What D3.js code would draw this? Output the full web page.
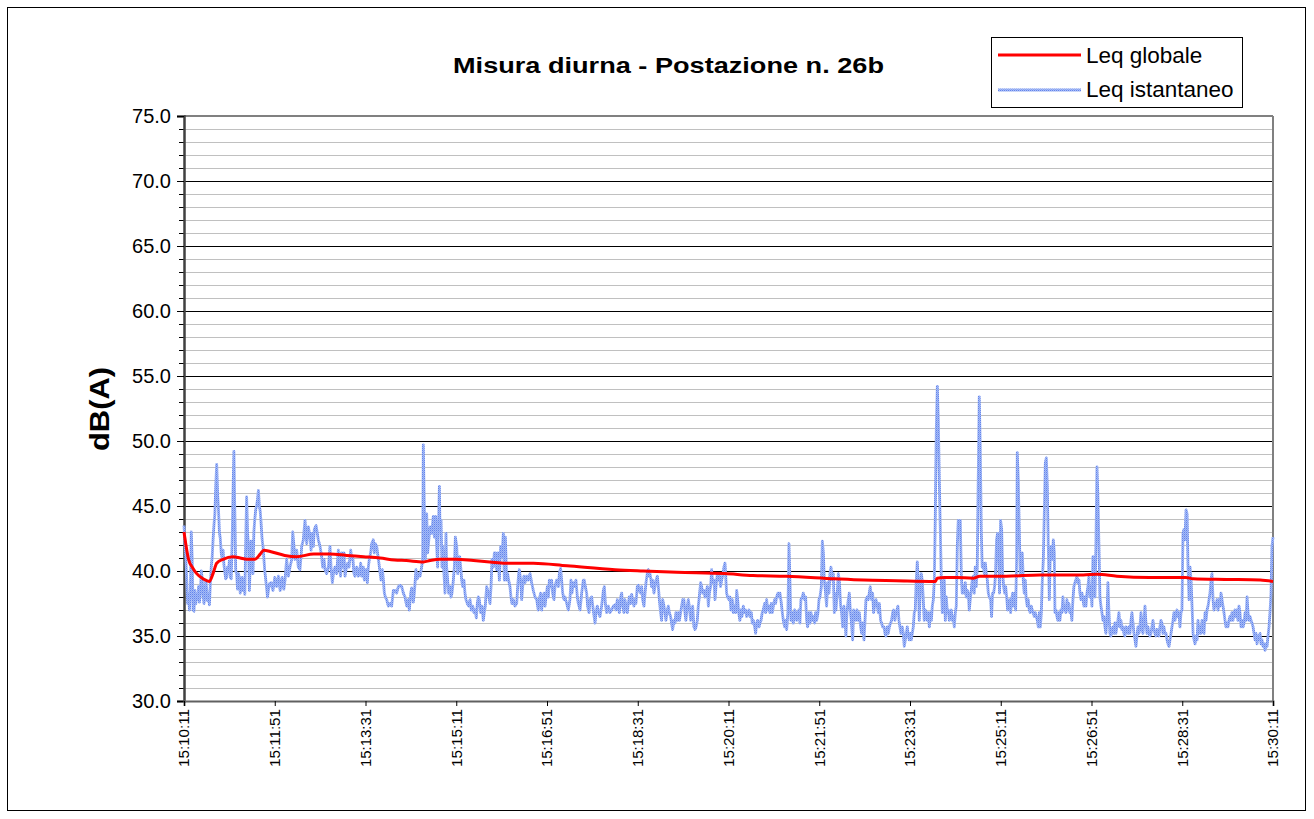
<!DOCTYPE html>
<html><head><meta charset="utf-8">
<script src="https://cdn.jsdelivr.net/npm/d3@7"></script>
<style>
body{margin:0;background:#fff}
svg text{font-family:"Liberation Sans",Arial,sans-serif;fill:#000}
</style>
</head><body>
<svg id="chart" width="1314" height="819"></svg>
<script>
// ---------- DATA ----------
const chartTitle = "Misura diurna - Postazione n. 26b";
const yTitle = "dB(A)";
const seriesNames = ["Leq globale", "Leq istantaneo"];
// x ticks: seconds from 15:10:11
const tickSeconds = [0,100,200,300,400,500,600,700,800,900,1000,1100,1200];
const tickLabels = ["15:10:11","15:11:51","15:13:31","15:15:11","15:16:51","15:18:31","15:20:11","15:21:51","15:23:31","15:25:11","15:26:51","15:28:31","15:30:11"];
const yMajor = [30,35,40,45,50,55,60,65,70,75];

// Leq globale (running global level)
const globT = [0,5,10,14,21,28,32,36,43,54,62,69,78,84,88,95,111,124,143,161,179,198,216,232,245,264,271,282,300,319,337,354,385,422,475,506,543,596,627,664,717,749,785,822,828,830,838,851,870,877,906,943,960,991,1006,1028,1064,1081,1104,1112,1149,1186,1200];
const globV = [43.0,40.9,40.2,39.8,39.4,39.2,39.8,40.6,40.9,41.1,41.0,40.9,40.9,41.3,41.6,41.5,41.2,41.1,41.3,41.3,41.2,41.1,41.0,40.85,40.8,40.7,40.8,40.9,40.9,40.8,40.7,40.6,40.6,40.4,40.1,40.0,39.9,39.8,39.65,39.6,39.4,39.3,39.25,39.2,39.2,39.45,39.5,39.5,39.45,39.6,39.6,39.7,39.7,39.7,39.75,39.6,39.5,39.5,39.5,39.4,39.35,39.3,39.2];

// Leq istantaneo, in segments (time s, level dB)
const inst1T = [0,2,3,4,5,6,7,8,9,10,11,12,13,14,15,16,17,18,19,20,21,22,23,24,25,26,27,28,29,30,31,32,33,34,35,36,37,38,39,40,41,42,43,44,45,46,47,48,49,50,51,52,53,54,55,56,57,58,59,60,61,62,63,64,65,66,67,68,69,70,71,72,73,74,75,76,77,78,79,80,81,82,83,84,85,86,87,88,89,90,92,94,96,98,100,102,104,106,108,110];
const inst1V = [43.5,41.0,39.3,37.5,38.2,37.0,38.5,43.0,41.0,37.0,36.9,38.5,37.5,38.2,37.8,38.8,37.6,38.2,40.0,39.5,38.3,37.5,38.0,39.3,38.6,37.7,38.2,37.4,39.0,40.3,41.0,42.4,43.5,44.4,46.5,48.2,46.0,44.7,43.0,42.5,41.4,41.0,41.6,40.5,39.9,39.4,39.5,40.3,40.0,40.8,39.5,39.4,42.0,46.0,49.2,44.5,40.0,39.8,38.6,39.8,39.5,38.3,38.8,39.5,38.5,39.4,38.2,42.0,45.7,43.0,42.0,38.5,40.4,42.3,40.0,39.8,43.0,44.0,44.7,45.0,45.5,46.2,45.0,44.6,43.6,42.5,41.9,41.0,40.0,39.4,38.0,39.0,39.1,38.5,39.5,38.8,39.6,38.5,39.5,38.6];

const inst2T = [111.3,113.1,115.0,116.8,118.7,119.8,121.2,122.3,124.2,126.0,127.8,128.9,129.7,131.5,133.3,134.4,135.2,137.0,138.9,140.0,140.7,142.5,143.6,145.5,146.9,148.0,149.9,151.7,152.8,154.3,155.4,157.2,159.1,160.9,162.0,163.5,164.6,166.4,168.2,170.1,171.2,172.6,173.7,174.9,176.3,177.4,178.5,180.4,181.8,183.7,184.8,185.9,187.3,188.4,190.3,192.1,193.2,194.7,195.8,197.6,198.7,200.6,202.0,203.1,204.2,205.7,206.8,208.6,209.7,210.8,212.3,214.2,215.3,217.1,218.6,219.7,220.8,221.9,223.3,225.2,227.0,228.8,230.7,232.5];
const inst2V = [39.3,40.9,39.6,40.3,40.9,43.0,41.9,40.9,41.6,40.3,40.1,41.1,41.9,42.4,43.9,42.9,42.1,43.4,42.6,41.6,42.9,41.9,43.2,43.5,42.9,42.4,41.9,41.1,40.3,40.9,40.1,39.8,40.3,41.9,40.3,39.1,39.8,40.3,39.8,41.6,40.3,39.6,41.4,40.3,41.4,39.6,40.1,40.6,40.3,41.6,40.9,41.1,39.8,39.6,40.3,39.6,39.8,40.6,39.6,40.3,39.3,40.1,39.1,40.3,40.9,41.4,42.1,42.4,41.4,42.1,41.9,40.9,40.3,39.3,40.1,39.3,38.3,38.0,37.8,37.3,37.5,37.3,38.5,38.5];

const inst3T = [234.3,236.2,238.0,239.9,241.7,243.5,245.4,247.2,248.3,249.8,250.9,252.7,253.8,255.6,257.1,258.2,260.1,261.9,263.0,263.7,264.8,265.9,267.4,268.5,270.0,271.1,272.9,274.7,275.9,277.3,278.4,279.5,281.4,282.1,283.2,284.3,285.0,286.5,287.6,288.7,289.4,290.5,291.6,293.1,294.2,295.3,296.8,297.9,299.0,300.5,301.6,302.7,303.8,304.9,306.0,307.1,308.5,309.6,310.7,312.2,313.7,315.2,316.6,318.1,319.6,321.0,322.1,323.2,324.3,325.4,326.9,328.4,329.8,330.9,332.0,333.5,335.4,337.2,338.3,339.4,340.9,342.0,343.1,344.5,346.0,347.5,348.9,350.4,351.9,353.0];
const inst3V = [38.3,38.8,38.9,38.8,38.3,38.0,37.3,37.8,37.0,38.3,38.7,37.6,38.3,40.1,39.4,39.8,39.6,40.3,40.9,49.7,45.0,40.9,44.4,41.4,42.6,43.4,42.9,44.2,42.6,44.2,41.9,40.3,46.5,43.2,43.9,40.3,41.9,39.8,38.3,42.9,40.3,39.3,38.3,38.8,38.0,38.3,39.3,40.3,42.6,41.9,39.8,40.9,41.1,40.3,39.3,38.8,39.3,38.3,37.8,37.5,37.3,37.8,37.0,37.3,36.8,37.0,36.4,37.5,38.0,37.8,36.8,37.3,36.2,36.8,37.3,38.8,38.3,37.5,38.8,40.9,40.3,41.4,41.4,40.1,41.4,39.3,41.9,41.1,42.9,39.3];

const inst4T = [354.1,354.8,355.5,356.6,357.7,359.2,360.3,361.4,362.9,364.7,366.6,367.7,368.8,369.5,371.0,372.1,373.2,374.6,375.7,377.6,379.4,381.3,383.1,384.9,386.8,388.6,390.4,391.5,393.0,394.1,395.2,396.7,397.8,398.9,400.4,401.5,402.6,404.0,405.1,406.2,407.7,408.8,410.6,412.5,413.6,415.0,416.1,417.3,418.7,419.8,421.7,423.5,425.3,426.4,427.5,429.0,430.8,431.9,433.4,434.5,436.4,438.2,440.0,441.1,442.2,443.7,444.8,446.3,447.4,449.2,451.0,452.9,454.0,455.4,456.9,458.4,460.2,462.1,463.2,464.3,465.7,467.6,469.4,471.2,473.1,474.9];
const inst4V = [42.6,41.1,39.3,39.8,39.3,38.8,38.0,37.5,37.8,37.3,37.5,38.8,39.8,40.1,39.3,37.8,38.8,39.6,39.1,39.6,39.3,39.8,39.1,38.5,38.0,37.8,37.0,37.8,38.3,37.0,37.8,38.3,37.3,38.0,38.8,38.0,39.3,38.8,39.3,38.3,37.8,38.8,39.3,38.8,39.8,40.2,39.3,38.3,37.8,38.0,37.5,37.0,37.8,39.3,38.3,39.1,38.8,39.3,38.0,37.5,37.0,38.3,39.3,39.3,38.8,38.3,37.3,36.8,37.8,38.0,37.0,36.0,36.8,37.3,36.8,36.5,37.3,38.5,38.8,37.5,36.8,37.3,36.8,37.0,37.3,37.4];

const inst5T = [476.0,477.5,478.6,479.7,481.2,482.3,483.4,484.8,485.9,487.0,488.5,489.6,490.7,492.2,493.3,494.4,495.8,496.9,498.0,499.5,500.6,501.7,503.2,504.3,505.4,506.9,508.0,509.1,510.5,511.6,512.7,513.5,514.6,515.3,516.4,517.9,519.0,520.1,521.6,522.7,523.8,525.2,526.3,527.4,528.9,530.0,531.1,532.6,533.7,534.8,536.2,537.3,538.4,539.9,541.0,542.1,543.6,544.7,545.8,547.3,548.4,549.5,550.9,552.0,553.1,554.6,555.7,556.8,558.3,559.4,560.5,561.9,563.1,564.2,565.6,566.7,567.8,569.3,570.4,571.5,573.0,574.1,575.2,576.7,577.8,578.9,580.3,581.4,582.5,584.0,585.1,586.2,587.7,588.8,589.9,591.3,592.4,593.5,595.0,596.1];
const inst5V = [37.0,37.8,37.3,36.8,38.0,38.3,37.3,36.8,37.8,37.3,36.8,37.5,38.0,37.5,38.2,37.8,37.3,37.8,37.5,38.8,38.9,38.5,38.3,38.8,37.8,37.3,38.3,39.1,39.8,40.1,39.6,39.8,39.3,38.8,39.3,38.3,38.8,39.3,39.6,38.8,37.8,36.8,36.2,37.8,37.3,36.8,36.2,37.0,37.3,36.8,36.5,36.0,35.5,36.2,36.0,36.8,36.2,36.8,36.2,36.8,37.3,37.8,37.8,36.8,36.2,37.3,37.8,37.3,36.2,36.8,37.3,35.7,35.5,35.7,36.2,37.3,38.0,39.1,38.8,38.3,38.5,38.0,38.3,38.8,37.3,38.3,38.8,40.1,39.1,39.3,37.8,38.8,39.8,39.3,39.8,38.8,39.3,39.6,40.3,40.6];

const inst6T = [596.8,597.9,599.0,600.5,601.6,602.7,604.2,605.3,606.4,607.9,609.0,610.1,611.2,612.6,613.7,614.8,616.3,617.4,618.9,620.0,621.1,622.6,623.7,625.1,626.2,627.3,628.8,629.9,631.0,632.1,633.6,634.7,635.8,637.2,638.3,639.8,640.9,642.0,643.1,644.6,645.7,647.2,648.3,649.4,650.8,651.9,653.0,654.5,655.6,656.7,658.2,659.3,660.4,661.9,663.0,664.1,665.5,666.6,667.7,668.8,670.3,671.4,672.9,674.0,675.1,676.5,677.6,678.7,679.8,681.3,682.4,683.9,685.0,686.1,687.2,688.7,689.8,690.9,692.3,693.4,694.9,696.0,697.1,698.6,699.7,700.8,702.3,703.4,704.5,705.6,707.0,708.1,709.2,710.7,711.8,712.9,714.4,715.5,716.6];
const inst6V = [39.8,38.3,38.0,37.8,38.0,37.0,37.8,36.8,37.3,36.8,38.5,37.8,36.8,36.2,37.0,36.5,37.3,36.8,37.0,36.5,36.8,37.0,36.5,36.8,36.0,36.2,35.7,35.2,36.0,36.2,35.7,36.0,36.2,36.8,37.0,37.5,36.8,37.8,37.0,37.3,36.8,37.5,36.8,37.3,37.8,37.5,38.0,38.3,38.0,38.3,37.5,36.8,36.2,35.7,36.2,35.5,36.8,42.1,39.3,36.2,36.8,36.0,37.0,36.8,36.2,36.8,37.0,36.0,37.8,38.0,38.3,37.8,38.0,36.2,35.7,36.8,36.0,36.8,36.2,36.5,36.0,36.8,36.2,36.8,37.8,38.0,38.8,42.3,41.4,39.3,38.3,37.3,39.1,38.3,39.8,40.3,39.3,39.8,36.8];

const inst7T = [717.0,718.4,719.9,721.0,722.1,723.6,724.7,725.8,727.2,728.3,729.4,730.5,732.0,733.1,734.2,735.3,736.8,737.9,739.3,740.5,741.6,743.0,744.1,745.6,746.7,747.8,749.3,750.4,751.5,752.9,754.0,755.1,756.2,757.7,758.8,759.9,761.4,762.5,764.0,765.1,766.2,767.6,768.7,769.8,771.3,772.4,773.5,775.0,776.1,777.2,778.6,779.7,780.9,782.0,783.4,784.5,785.6,786.7,787.8,788.9,790.0,791.5,792.6,793.7,794.8,795.9,797.0,798.1,799.2,800.3,801.4,802.5,803.6,804.7,805.8,806.9,808.0,809.1,810.2,811.3,812.4,813.5,814.6,815.7,816.8,817.9,819.1,820.2,821.3,822.4,823.5,824.6,825.7,826.8,827.9,829.0,830.1,831.2,832.3,833.4,834.5,835.6,836.7,837.8];
const inst7V = [38.3,37.0,38.3,39.8,39.3,37.3,36.8,35.7,37.3,36.5,35.0,36.8,37.8,38.3,37.0,36.2,34.7,37.0,36.8,36.2,37.0,36.2,36.8,35.7,35.2,36.0,34.7,36.2,37.8,38.0,37.8,38.3,38.8,37.8,38.3,36.8,37.5,37.8,37.3,36.8,37.5,36.2,36.0,35.7,35.7,35.2,35.0,35.7,35.2,35.7,36.0,36.2,36.8,37.0,36.2,36.8,37.0,37.3,36.2,35.7,35.2,35.7,35.2,34.2,34.7,35.2,35.7,35.0,34.7,35.2,34.7,35.2,35.7,36.8,37.0,39.3,40.7,39.3,36.2,38.8,39.8,39.3,37.8,36.2,37.0,36.8,36.2,36.8,35.7,36.8,36.2,37.3,37.8,39.3,44.4,50.9,54.2,51.6,47.0,43.2,39.3,36.8,38.0,39.3];

const inst8T = [838.9,840.0,841.1,842.2,843.3,844.4,845.5,846.6,847.7,848.8,849.9,851.0,852.1,853.2,854.3,855.4,856.5,857.6,858.7,859.8,860.9,862.0,863.1,864.2,865.3,866.4,867.5,868.6,869.7,870.8,871.9,873.0,874.1,875.2,876.3,877.4,878.5,879.6,880.7,881.9,883.0,884.1,885.2,886.3,887.4,888.8,889.9,891.0,892.1,893.2,894.3,895.4,896.5,897.6,898.7,899.8,901.0,902.1,903.2,904.3,905.4,906.5,907.6,908.7,909.8,910.9,912.0,913.1,914.2,915.3,916.4,917.5,918.2,919.3,920.4,921.5,922.6,923.7,924.8,925.9,927.0,928.1,929.2,930.3,931.4,932.5,933.6,934.7,935.8,936.9,938.0,939.1,940.3,941.4,942.5,943.6,944.7,945.8,946.9,948.0,949.1,950.2,951.3,952.4,953.5,954.6,955.7,956.8,957.9,959.0];
const inst8V = [36.2,38.0,36.8,37.0,36.2,36.8,37.0,36.2,36.5,35.7,36.8,37.3,41.9,43.9,43.4,43.9,39.8,38.3,38.8,38.3,39.1,38.0,38.5,38.3,37.0,37.8,38.5,39.3,39.6,38.3,40.3,38.8,40.3,47.0,53.4,49.6,43.2,40.3,40.6,39.8,40.6,39.8,39.3,38.3,38.0,37.8,36.5,38.3,38.3,38.8,39.8,42.4,42.9,41.4,38.3,43.9,43.2,39.8,38.8,38.3,38.8,38.0,37.0,37.3,37.8,36.8,37.8,38.3,37.3,38.3,37.0,40.9,49.1,47.0,43.2,39.6,40.3,41.4,39.3,38.3,39.3,37.8,37.3,37.8,37.0,36.8,37.3,37.0,36.8,36.5,36.8,36.5,36.2,35.7,36.8,35.7,36.8,39.3,40.9,44.4,48.3,48.7,46.5,41.9,37.8,41.4,41.9,40.9,42.4,41.4];

const inst9T = [959.7,960.8,961.9,963.0,964.1,965.2,966.3,967.4,968.5,969.6,970.7,971.8,972.9,974.0,975.1,976.2,977.3,978.4,979.5,980.6,981.7,982.8,983.9,985.1,986.2,987.3,988.4,989.5,990.6,991.7,992.8,993.9,995.0,996.1,997.2,998.3,999.4,1000.5,1001.6,1002.7,1003.8,1004.9,1006.0,1007.1,1008.2,1009.3,1010.4,1011.5,1012.6,1013.7,1014.8,1015.9,1017.0,1018.1,1019.2,1020.3,1021.4,1022.5,1023.6,1024.7,1025.8,1026.9,1028.0,1029.1,1030.2,1031.3,1032.4,1033.5,1034.6,1035.7,1036.8,1037.9,1039.0,1040.1,1041.2,1042.4,1043.5,1044.6,1045.7,1046.8,1047.9,1049.0,1050.1,1051.2,1052.3,1053.4,1054.5,1055.6,1056.7,1057.8,1058.9,1060.0,1061.1,1062.2,1063.3,1064.4,1065.5,1066.6,1067.7,1068.8,1069.9,1071.0,1072.1,1073.2,1074.3,1075.4,1076.5,1077.6,1078.7,1079.8,1080.9];
const inst9V = [36.8,37.0,36.5,36.2,36.8,36.2,37.0,36.8,38.0,37.0,37.3,36.8,37.8,37.0,37.5,36.8,37.0,36.2,37.8,38.8,39.1,39.3,39.6,39.1,39.3,38.3,37.8,38.3,37.8,37.3,38.0,37.3,38.3,38.8,39.6,38.0,38.8,37.3,41.1,40.3,38.0,41.9,48.0,45.7,41.9,38.0,37.3,36.8,36.2,36.5,35.7,35.2,36.2,39.1,36.8,35.2,35.0,35.5,35.7,35.2,36.0,35.2,35.7,36.2,36.8,35.7,36.2,35.5,35.7,35.2,35.0,35.7,35.5,35.2,35.7,35.2,36.2,36.8,36.0,35.2,34.7,34.2,35.0,35.7,35.2,35.7,36.8,35.5,35.2,36.2,37.3,36.0,35.2,35.7,35.2,35.0,35.2,35.7,36.2,35.5,35.2,35.0,35.5,35.2,35.0,35.7,36.2,36.0,35.2,35.7,35.2];

const inst10T = [1082.1,1083.2,1084.3,1085.4,1086.5,1087.6,1088.7,1089.8,1090.9,1092.0,1093.1,1094.2,1095.3,1096.4,1097.5,1098.6,1099.7,1100.8,1101.9,1103.0,1104.2,1105.3,1106.4,1107.5,1108.6,1109.7,1110.8,1111.9,1113.0,1114.1,1115.2,1116.3,1117.4,1118.5,1119.6,1120.7,1121.8,1122.9,1124.0,1125.1,1126.2,1127.3,1128.4,1129.5,1130.6,1131.7,1132.8,1133.9,1135.0,1136.1,1137.2,1138.3,1139.4,1140.5,1141.6,1142.7,1143.8,1144.9,1146.0,1147.1,1148.2,1149.3,1150.4,1151.5,1152.6,1153.7,1154.8,1155.9,1157.0,1158.1,1159.2,1160.3,1161.4,1162.5,1163.6,1164.8,1165.9,1167.0,1168.1,1169.2,1170.3,1171.4,1172.5,1173.6,1174.7,1175.8,1176.9,1178.0,1179.1,1180.2,1181.3,1182.4,1183.5,1184.6,1185.7,1186.8,1187.9,1189.0,1190.1,1191.2,1192.3,1193.4,1194.5,1195.6,1196.7,1197.8,1198.9,1200];
const inst10V = [35.2,34.7,34.4,34.2,34.7,35.2,35.7,36.2,36.8,36.2,36.8,37.0,36.5,36.8,35.7,36.8,37.0,42.9,43.2,42.4,44.7,44.4,40.3,37.8,40.3,39.3,37.3,35.2,34.7,34.4,35.0,34.7,36.2,35.2,35.7,35.2,36.2,35.7,35.2,36.8,36.2,37.0,37.3,37.8,38.3,39.3,39.8,37.8,37.0,37.5,37.3,37.8,37.0,37.8,37.3,38.3,37.8,37.3,36.8,36.2,35.7,36.0,35.7,36.2,36.5,36.2,36.8,36.2,36.8,37.0,36.5,37.0,36.2,37.3,36.8,35.7,36.2,35.7,36.0,36.8,36.2,38.0,36.8,36.2,36.5,36.2,36.0,35.7,35.2,34.7,35.2,34.4,35.0,34.7,35.2,34.4,34.7,34.2,34.4,33.9,34.4,34.2,35.0,35.7,36.8,38.3,41.9,42.6];

const instSegT = [inst1T,inst2T,inst3T,inst4T,inst5T,inst6T,inst7T,inst8T,inst9T,inst10T];
const instSegV = [inst1V,inst2V,inst3V,inst4V,inst5V,inst6V,inst7V,inst8V,inst9V,inst10V];

// ---------- CHART ----------
const svg = d3.select("#chart");
const W = 1314, H = 819;
const plot = {left:184, right:1273, top:116, bottom:701};
const FONT = '"Liberation Sans",Arial,sans-serif';

const x = d3.scaleLinear().domain([0,1200]).range([plot.left, plot.right]);
const y = d3.scaleLinear().domain([30,75]).range([plot.bottom, plot.top]);

// pattern for the textured blue line
const defs = svg.append("defs");
const pat = defs.append("pattern").attr("id","blueTex").attr("patternUnits","userSpaceOnUse")
  .attr("width",2).attr("height",2);
pat.append("rect").attr("width",2).attr("height",2).attr("fill","#a6bbf6");
pat.append("rect").attr("width",1).attr("height",1).attr("fill","#6384ec");
pat.append("rect").attr("x",1).attr("y",1).attr("width",1).attr("height",1).attr("fill","#86a2f2");

svg.append("rect").attr("width",W).attr("height",H).attr("fill","#fff");
// outer chart frame
svg.append("rect").attr("x",7.5).attr("y",7.5).attr("width",1298).attr("height",803)
  .attr("fill","none").attr("stroke","#000").attr("stroke-width",1);

// minor gridlines (every 1 dB)
const minorVals = d3.range(31,75).filter(v => v % 5 !== 0);
svg.append("g").selectAll("line").data(minorVals).join("line")
  .attr("x1",plot.left).attr("x2",plot.right)
  .attr("y1",d=>Math.round(y(d))+0.5).attr("y2",d=>Math.round(y(d))+0.5)
  .attr("stroke","#c0c0c0").attr("stroke-width",1);
// major gridlines
svg.append("g").selectAll("line").data(yMajor.filter(v=>v>30 && v<75)).join("line")
  .attr("x1",plot.left).attr("x2",plot.right)
  .attr("y1",d=>Math.round(y(d))+0.5).attr("y2",d=>Math.round(y(d))+0.5)
  .attr("stroke","#000").attr("stroke-width",1);

// plot border (top & right)
svg.append("line").attr("x1",plot.left).attr("x2",plot.right).attr("y1",plot.top).attr("y2",plot.top)
  .attr("stroke","#808080").attr("stroke-width",2);
svg.append("line").attr("x1",plot.right).attr("x2",plot.right).attr("y1",plot.top).attr("y2",plot.bottom)
  .attr("stroke","#808080").attr("stroke-width",2);

// y axis: minor ticks
const yMinorAxis = d3.axisLeft(y).tickValues(minorVals).tickSize(5).tickFormat("");
svg.append("g").attr("transform",`translate(${plot.left},0)`).call(yMinorAxis)
  .call(g=>g.select(".domain").remove())
  .call(g=>g.selectAll("line").attr("stroke","#000"));
// y axis: major ticks & labels
const yAxis = d3.axisLeft(y).tickValues(yMajor).tickSize(7).tickPadding(6).tickFormat(d3.format(".1f"));
svg.append("g").attr("transform",`translate(${plot.left},0)`).call(yAxis)
  .call(g=>g.select(".domain").attr("stroke","#404040").attr("stroke-width",2.5))
  .call(g=>g.selectAll("line").attr("stroke","#000"))
  .call(g=>g.selectAll("text").attr("font-size",20).attr("font-family",FONT));

// x axis
const xAxis = d3.axisBottom(x).tickValues(tickSeconds).tickSize(5)
  .tickFormat((d,i)=>tickLabels[i]);
svg.append("g").attr("transform",`translate(0,${plot.bottom})`).call(xAxis)
  .call(g=>g.select(".domain").attr("stroke","#606060").attr("stroke-width",2))
  .call(g=>g.selectAll("line").attr("stroke","#000"))
  .call(g=>g.selectAll("text")
      .attr("font-size",14).attr("font-family",FONT)
      .attr("textLength",58).attr("lengthAdjust","spacingAndGlyphs")
      .attr("text-anchor","end").attr("transform","rotate(-90)")
      .attr("x",-8).attr("y",0).attr("dy","0.35em"));

// lines
const pts = [];
instSegT.forEach((ts,si)=>{ ts.forEach((t,i)=>{ pts.push([t, instSegV[si][i]]); }); });
const lineGen = d3.line().x(d=>x(d[0])).y(d=>y(d[1]));
svg.append("path").datum(pts).attr("d",lineGen)
  .attr("fill","none").attr("stroke","url(#blueTex)").attr("stroke-width",2.8)
  .attr("stroke-linejoin","round");

const gpts = globT.map((t,i)=>[t, globV[i]]);
svg.append("path").datum(gpts).attr("d",lineGen.curve(d3.curveMonotoneX))
  .attr("fill","none").attr("stroke","#ff0000").attr("stroke-width",3);

// title
svg.append("text").attr("x",668.5).attr("y",73).attr("text-anchor","middle")
  .attr("font-size",22).attr("font-weight","bold")
  .attr("textLength",431).attr("lengthAdjust","spacingAndGlyphs").text(chartTitle);

// y title
svg.append("text").attr("transform","translate(109,409) rotate(-90)").attr("text-anchor","middle")
  .attr("font-size",27).attr("font-weight","bold")
  .attr("textLength",84).attr("lengthAdjust","spacingAndGlyphs").text(yTitle);

// legend
const lg = svg.append("g");
lg.append("rect").attr("x",991.5).attr("y",37.5).attr("width",251).attr("height",70)
  .attr("fill","#fff").attr("stroke","#000").attr("stroke-width",1);
lg.append("line").attr("x1",998).attr("x2",1081).attr("y1",55).attr("y2",55)
  .attr("stroke","#ff0000").attr("stroke-width",3);
lg.append("line").attr("x1",998).attr("x2",1081).attr("y1",90).attr("y2",90)
  .attr("stroke","url(#blueTex)").attr("stroke-width",3);
lg.append("text").attr("x",1086).attr("y",63).attr("font-size",22.5).text(seriesNames[0]);
lg.append("text").attr("x",1086).attr("y",97).attr("font-size",22.5).text(seriesNames[1]);
</script>
</body></html>
